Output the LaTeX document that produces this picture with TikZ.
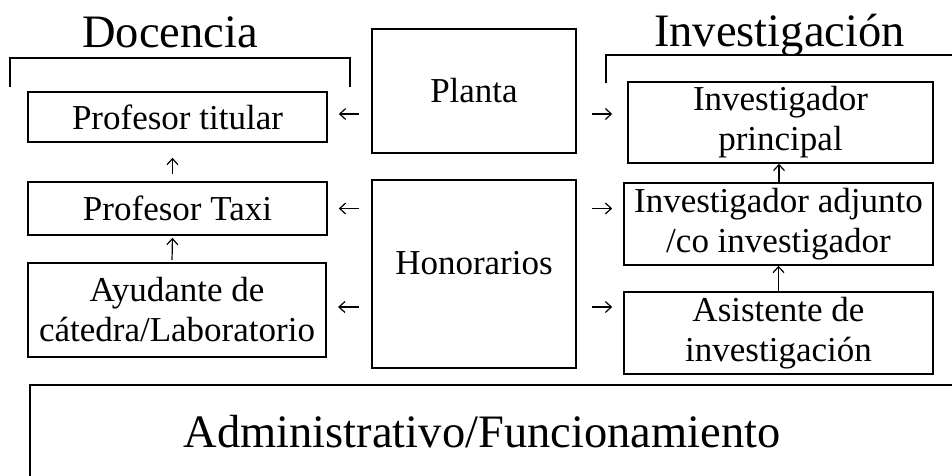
\documentclass[tikz,border=0pt]{standalone}
\usepackage{fontspec}
\setmainfont{Liberation Serif}
\usetikzlibrary{arrows.meta}
\begin{document}
\begin{tikzpicture}[x=1pt,y=-1pt,
  box/.style={draw, line width=1.6pt, inner sep=0pt, align=center,
    font=\fontsize{35}{40}\selectfont},
  arr/.style={-{Straight Barb[length=6pt,width=11pt]}, line width=1.2pt},
  head/.style={font=\fontsize{46.5}{50}\selectfont, inner sep=0pt, anchor=base},
  brk/.style={line width=1.6pt}]
\useasboundingbox (0,0) rectangle (952,476);
\clip (0,0) rectangle (952,476);
\fill[white] (0,0) rectangle (952,476);

% headings and brackets
\node[head] (doc) at (170,48) {Docencia};
\node[head] (inv) at (779.5,47) {Investigación};
\draw[brk] (10,87) -- (10,58) -- (350,58) -- (350,87);
\draw[brk] (606,83) -- (606,55) -- (965,55);

% left column
\node[box, minimum width=299pt, minimum height=50pt] (tit) at (177.5,117) {Profesor titular};
\node[box, minimum width=299pt, minimum height=53pt] (taxi) at (177.5,208.5) {Profesor Taxi};
\node[box, line width=2.2pt, minimum width=298pt, minimum height=94pt] (ayu) at (177,310) {Ayudante de\\cátedra/Laboratorio};

% middle column
\node[box, minimum width=204pt, minimum height=124pt] (planta) at (474,91) {Planta};
\node[box, text depth=22pt, minimum width=204pt, minimum height=188pt] (hon) at (474,274) {Honorarios};

% right column
\node[box, minimum width=305pt, minimum height=81pt] (ppal) at (780.5,122.5) {Investigador\\principal};
\node[box, minimum width=309pt, minimum height=82pt] (adj) at (778.5,224) {Investigador adjunto\\/co investigador};
\node[box, minimum width=309pt, minimum height=82pt] (asis) at (778.5,333) {Asistente de\\investigación};

% bottom box
\node[draw, line width=1.6pt, minimum width=950pt, minimum height=100pt, inner sep=0pt] (adminbox) at (505,435) {};
\node[head] (admin) at (482,447) {Administrativo/Funcionamiento};

% horizontal arrows
\draw[arr, shorten <=12pt, shorten >=11pt] ([yshift=3pt]planta.west |- tit.east) -- ([yshift=3pt]tit.east);
\draw[arr, shorten <=12pt, shorten >=11pt] (hon.west |- taxi.east) -- (taxi.east);
\draw[arr, shorten <=12pt, shorten >=11pt] ([yshift=3pt]hon.west |- ayu.east) -- ([yshift=3pt]ayu.east);
\draw[arr, shorten <=15pt, shorten >=15pt] ([yshift=3pt]planta.east |- tit.east) -- ([yshift=3pt]ppal.west |- tit.east);
\draw[arr, shorten <=15pt, shorten >=11pt] (hon.east |- taxi.east) -- (adj.west |- taxi.east);
\draw[arr, shorten <=15pt, shorten >=11pt] ([yshift=3pt]hon.east |- ayu.east) -- ([yshift=3pt]asis.west |- ayu.east);

% vertical arrows
\draw[arr, shorten <=7pt, shorten >=15pt] ([xshift=-5pt]taxi.north) -- ([xshift=-5pt]tit.south);
\draw[arr, shorten <=2pt, shorten >=2pt] ([xshift=-5pt]ayu.north) -- ([xshift=-5pt]taxi.south);
\draw[arr] ([xshift=0.5pt]adj.north) -- ([xshift=-1.5pt]ppal.south);
\draw[arr] (asis.north) -- (adj.south);
\end{tikzpicture}
\end{document}
